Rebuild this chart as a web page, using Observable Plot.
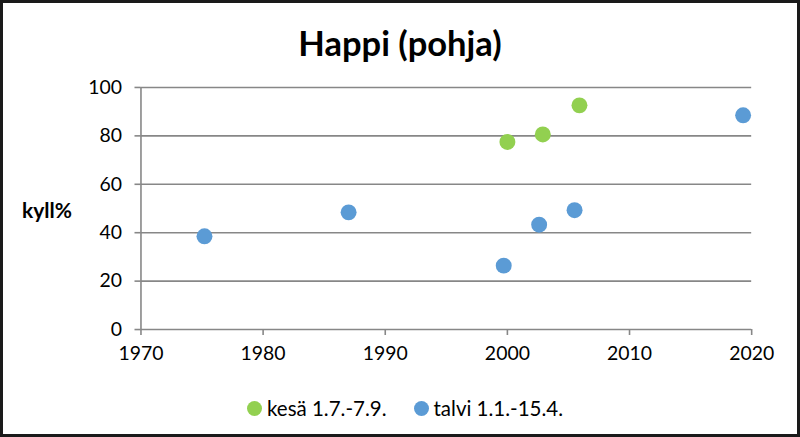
<!DOCTYPE html>
<html>
<head>
<meta charset="utf-8">
<script src="https://cdn.jsdelivr.net/npm/d3@7"></script>
<script src="https://cdn.jsdelivr.net/npm/@observablehq/plot@0.6"></script>
<style>
  html, body { margin: 0; padding: 0; background: #fff; }
  #chart {
    position: relative; width: 800px; height: 437px; box-sizing: border-box;
    border: 3px solid #1a1a1a; background: #fff; overflow: hidden;
    font-family: Lato, "Open Sans", sans-serif; color: #000;
  }
  #title {
    position: absolute; left: 0; right: 0; top: 20px; text-align: center;
    font-weight: bold; font-size: 34.5px; line-height: 40px;
  }
  #ylabel {
    position: absolute; left: 19px; top: 194px; font-weight: bold; font-size: 21px;
  }
  #plot { position: absolute; left: -3px; top: 72px; }
  #legend {
    position: absolute; top: 393px; left: 244px; display: flex; align-items: center;
    font-size: 20.5px; line-height: 24px;
  }
  .item { display: flex; align-items: center; margin-right: 27px; }
  .sw { width: 15px; height: 15px; border-radius: 50%; margin-right: 5px; }
</style>
</head>
<body>
<div id="chart">
  <div id="title">Happi (pohja)</div>
  <div id="ylabel">kyll%</div>
  <div id="plot"></div>
  <div id="legend"></div>
</div>
<script>
const seriesNames = ["kesä 1.7.-7.9.", "talvi 1.1.-15.4."];
const seriesColors = ["#92D050", "#5B9BD5"];
const kesaYears = [2000.0, 2002.9, 2005.9];
const kesaValues = [77.5, 80.6, 92.6];
const talviYears = [1975.2, 1987.0, 1999.7, 2002.6, 2005.5, 2019.3];
const talviValues = [38.5, 48.4, 26.4, 43.3, 49.3, 88.5];
const xTicks = [1970, 1980, 1990, 2000, 2010, 2020];
const yTicks = [0, 20, 40, 60, 80, 100];

const data = [
  ...kesaYears.map((x, i) => ({x, y: kesaValues[i], s: seriesNames[0]})),
  ...talviYears.map((x, i) => ({x, y: talviValues[i], s: seriesNames[1]}))
];

const grid = "#878787";
const chart = Plot.plot({
  width: 800,
  height: 300,
  marginTop: 12,
  marginBottom: 45,
  marginLeft: 141,
  marginRight: 46,
  style: {fontFamily: "Lato, 'Open Sans', sans-serif", fontSize: "19.5px", color: "#000", background: "transparent"},
  x: {domain: [1970, 2020]},
  y: {domain: [0, 100]},
  color: {domain: seriesNames, range: seriesColors},
  marks: [
    Plot.gridY(yTicks.slice(1), {stroke: grid, strokeOpacity: 1, strokeWidth: 1.6}),
    Plot.axisY({ticks: yTicks, tickSize: 6, tickPadding: 13, stroke: grid, strokeWidth: 1.6, label: null, fill: "#000"}),
    Plot.axisX({ticks: xTicks, tickSize: 6, tickPadding: 11, tickFormat: d => String(d), stroke: grid, strokeWidth: 1.6, label: null, fill: "#000"}),
    Plot.ruleY([0], {stroke: grid, strokeWidth: 1.6}),
    Plot.ruleX([1970], {stroke: grid, strokeWidth: 1.6}),
    Plot.dot(data, {x: "x", y: "y", fill: "s", r: 8, stroke: null})
  ]
});
document.getElementById("plot").appendChild(chart);

const legend = document.getElementById("legend");
seriesNames.forEach((n, i) => {
  const it = document.createElement("div");
  it.className = "item";
  it.innerHTML = `<span class="sw" style="background:${seriesColors[i]}"></span><span>${n}</span>`;
  legend.appendChild(it);
});
</script>
</body>
</html>
